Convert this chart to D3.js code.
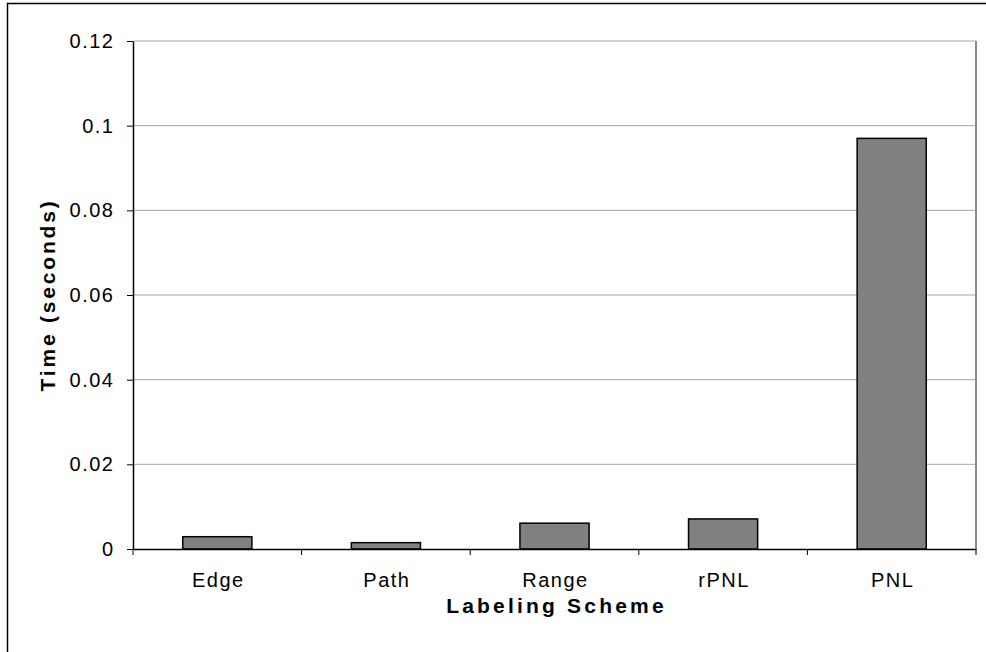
<!DOCTYPE html>
<html>
<head>
<meta charset="utf-8">
<script src="https://cdn.jsdelivr.net/npm/d3@7"></script>
<style>
  body { margin: 0; background: #fff; }
  svg text { font-family: "Liberation Sans", Arial, sans-serif; fill: #000; }
</style>
</head>
<body>
<div id="chart"></div>
<script>
// data
var schemes = ["Edge", "Path", "Range", "rPNL", "PNL"];
var times = [0.0029, 0.0015, 0.0061, 0.0071, 0.0970];
var yTicks = [0, 0.02, 0.04, 0.06, 0.08, 0.1, 0.12];

var svgWidth = 986;
var svgHeight = 652;

var margin = { top: 41, right: 10, bottom: 103, left: 133 };
var width = 976 - margin.left;
var height = 549 - margin.top;

var svg = d3.select("#chart").append("svg")
  .attr("width", svgWidth)
  .attr("height", svgHeight);

// outer frame (runs off the right and bottom of the picture)
svg.append("rect")
  .attr("x", 7.5).attr("y", 3.5)
  .attr("width", 990).attr("height", 700)
  .attr("fill", "none")
  .attr("stroke", "#000")
  .attr("stroke-width", 1.5);

var chartGroup = svg.append("g")
  .attr("transform", `translate(${margin.left}, ${margin.top})`);

var xScale = d3.scaleBand()
  .domain(schemes)
  .range([0, width])
  .paddingInner(0.59)
  .paddingOuter(0.295);

var yScale = d3.scaleLinear()
  .domain([0, 0.12])
  .range([height, 0]);

// gridlines
chartGroup.selectAll(".grid")
  .data(yTicks.filter(d => d > 0))
  .enter()
  .append("line")
  .attr("x1", 0).attr("x2", width)
  .attr("y1", d => yScale(d)).attr("y2", d => yScale(d))
  .attr("stroke", "#a6a6a6")
  .attr("stroke-width", 1);

// plot area right border in gray
chartGroup.append("line")
  .attr("x1", width).attr("x2", width)
  .attr("y1", 0).attr("y2", height)
  .attr("stroke", "#8c8c8c")
  .attr("stroke-width", 2);

// bars
chartGroup.selectAll(".bar")
  .data(schemes)
  .enter()
  .append("rect")
  .attr("x", d => xScale(d))
  .attr("y", (d, i) => yScale(times[i]))
  .attr("width", xScale.bandwidth())
  .attr("height", (d, i) => height - yScale(times[i]))
  .attr("fill", "#808080")
  .attr("stroke", "#000")
  .attr("stroke-width", 1.5);

// y axis
var leftAxis = d3.axisLeft(yScale)
  .tickValues(yTicks)
  .tickFormat(d => d3.format("")(+d.toFixed(2)))
  .tickSizeInner(6)
  .tickSizeOuter(0)
  .tickPadding(12.5);

var yAxis = chartGroup.append("g").call(leftAxis);
yAxis.select(".domain").attr("stroke", "#000").attr("stroke-width", 1.5);
yAxis.selectAll("text")
  .attr("font-size", "20px")
  .attr("letter-spacing", "1.5px")
  .attr("font-family", "Liberation Sans, Arial, sans-serif");

// x axis: ticks sit on band boundaries
var bottomAxis = d3.axisBottom(xScale).tickSize(0).tickPadding(24);
var xAxis = chartGroup.append("g")
  .attr("transform", `translate(0, ${height})`)
  .call(bottomAxis);
xAxis.select(".domain").attr("stroke", "#000").attr("stroke-width", 1.5);
xAxis.selectAll("text")
  .attr("font-size", "20px")
  .attr("letter-spacing", "1.5px")
  .attr("dx", "1px")
  .attr("font-family", "Liberation Sans, Arial, sans-serif");

var step = width / schemes.length;
chartGroup.selectAll(".xtick")
  .data(d3.range(schemes.length + 1))
  .enter()
  .append("line")
  .attr("x1", d => d * step).attr("x2", d => d * step)
  .attr("y1", height).attr("y2", height + 6)
  .attr("stroke", "#000")
  .attr("stroke-width", 1);

// axis titles
svg.append("text")
  .attr("transform", "rotate(-90)")
  .attr("x", -(margin.top + height / 2))
  .attr("y", 55)
  .attr("text-anchor", "middle")
  .attr("font-size", "21px")
  .attr("font-weight", "bold")
  .attr("letter-spacing", "2.8px")
  .text("Time (seconds)");

svg.append("text")
  .attr("x", margin.left + width / 2 + 2)
  .attr("y", 613)
  .attr("text-anchor", "middle")
  .attr("font-size", "21px")
  .attr("font-weight", "bold")
  .attr("letter-spacing", "3.2px")
  .text("Labeling Scheme");
</script>
</body>
</html>
